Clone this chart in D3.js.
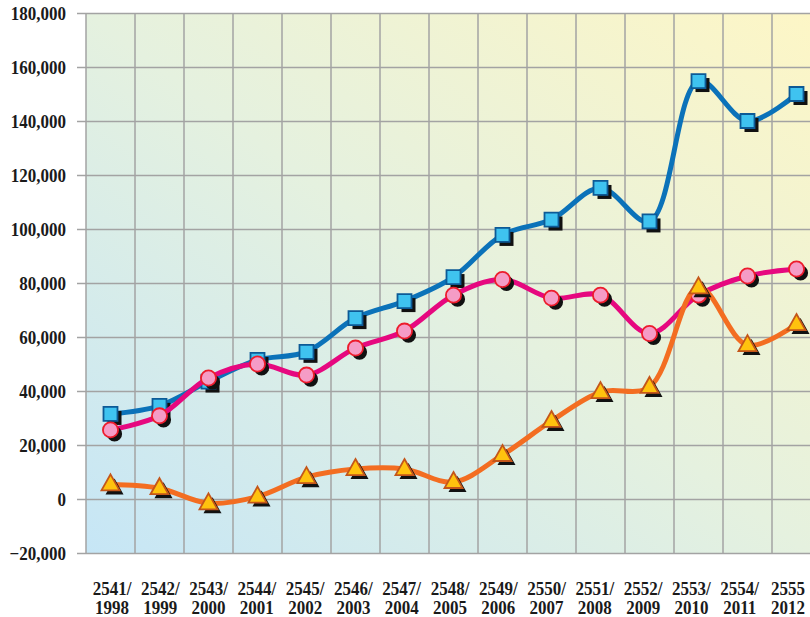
<!DOCTYPE html>
<html>
<head>
<meta charset="utf-8">
<script src="https://cdn.jsdelivr.net/npm/d3@7"></script>
<style>
html,body{margin:0;padding:0;background:#fff;}
svg{display:block;}
text{font-family:"Liberation Serif","Times New Roman",serif;font-weight:bold;fill:#1a1a1a;}
</style>
</head>
<body>
<svg id="chart" width="810" height="617"></svg>
<script>
const yearsThai = ["2541/","2542/","2543/","2544/","2545/","2546/","2547/","2548/","2549/","2550/","2551/","2552/","2553/","2554/","2555"];
const yearsAD = ["1998","1999","2000","2001","2002","2003","2004","2005","2006","2007","2008","2009","2010","2011","2012"];
const blueSeries = [31500,34500,43500,51500,54500,67000,73300,82200,97800,103500,115200,102800,154800,140000,150000];
const pinkSeries = [25600,30800,44800,50000,45900,55900,62200,75500,81300,74400,75500,61300,75500,82600,85200];
const orangeSeries = [5400,4000,-1600,900,8100,11100,11100,6300,16300,28900,39600,41500,78400,57000,64800];
const yTicks = [-20000,0,20000,40000,60000,80000,100000,120000,140000,160000,180000];

(function(){
const svg = d3.select("#chart");
const pLeft = 86, pRight = 821, pTop = 13, pBottom = 553;
const cats = yearsThai.map((d,i)=>i);
const x = d3.scaleBand().domain(cats).range([pLeft, pRight]).padding(0);
const xLab = d3.scalePoint().domain(cats).range([112, 788]);
const y = d3.scaleLinear().domain([-20000,180000]).range([pBottom, pTop]);
const cx = i => x(i) + x.bandwidth()/2;

const defs = svg.append("defs");
const grad = defs.append("linearGradient").attr("id","bg")
  .attr("x1","0%").attr("y1","100%").attr("x2","100%").attr("y2","0%");
grad.append("stop").attr("offset","0%").attr("stop-color","#c6e6f6");
grad.append("stop").attr("offset","50%").attr("stop-color","#e5f1df");
grad.append("stop").attr("offset","100%").attr("stop-color","#fdf6c6");

svg.append("rect").attr("x",pLeft).attr("y",pTop).attr("width",810-pLeft).attr("height",pBottom-pTop)
  .attr("fill","url(#bg)");

const vg = svg.append("g");
cats.forEach(i=>{
  vg.append("line").attr("x1",x(i)).attr("x2",x(i)).attr("y1",pTop).attr("y2",pBottom)
    .attr("stroke","#a3a3a3").attr("stroke-width",1.5);
});
const yAxis = d3.axisLeft(y).tickValues(yTicks).tickSize(-(810-77)).tickFormat(d3.format(","));
const ga = svg.append("g").attr("transform",`translate(77,0)`).call(yAxis);
ga.select(".domain").remove();
ga.selectAll(".tick line").attr("stroke","#a3a3a3").attr("stroke-width",1.5);
ga.selectAll(".tick text").attr("x",0).attr("dy",null).attr("font-size",17).attr("fill","#1a1a1a")
  .attr("transform","translate(-11,6) scale(1,1.1)")
  .style("font-family",'"Liberation Serif",serif').style("font-weight","bold");

const xl = svg.append("g");
cats.forEach(i=>{
  xl.append("text").attr("transform",`translate(${xLab(i)},595) scale(1,1.1)`)
    .attr("text-anchor","middle").attr("font-size",17).text(yearsThai[i]);
  xl.append("text").attr("transform",`translate(${xLab(i)},614) scale(1,1.1)`)
    .attr("text-anchor","middle").attr("font-size",17).text(yearsAD[i]);
});

const line = d3.line().x((d,i)=>cx(i)).y(d=>y(d)).curve(d3.curveCatmullRom.alpha(0.5));
const sh = 4;

function drawSeries(data, lineColor, shape, fill, stroke){
  const g = svg.append("g");
  g.append("path").attr("d",line(data)).attr("fill","none").attr("stroke",lineColor)
    .attr("stroke-width",5).attr("stroke-linejoin","round").attr("stroke-linecap","round");
  data.forEach((v,i)=>{
    const px = cx(i), py = y(v);
    let pathD;
    if(shape==="square") pathD = "M-7,-7H7V7H-7Z";
    else if(shape==="circle") pathD = d3.symbol(d3.symbolCircle, 180)();
    else pathD = "M0,-10L9,6L-9,6Z";
    g.append("path").attr("d",pathD).attr("transform",`translate(${px+sh},${py+sh})`).attr("fill","#111");
    g.append("path").attr("d",pathD).attr("transform",`translate(${px},${py})`)
      .attr("fill",fill).attr("stroke",stroke).attr("stroke-width",1.8);
  });
}
drawSeries(blueSeries, "#0b72b9", "square", "#3fc3f0", "#0d5a96");
drawSeries(pinkSeries, "#e6087f", "circle", "#f59cc6", "#ec1c2c");
drawSeries(orangeSeries, "#f36d21", "triangle", "#ffc20e", "#c4561a");
})();
</script>
</body>
</html>
